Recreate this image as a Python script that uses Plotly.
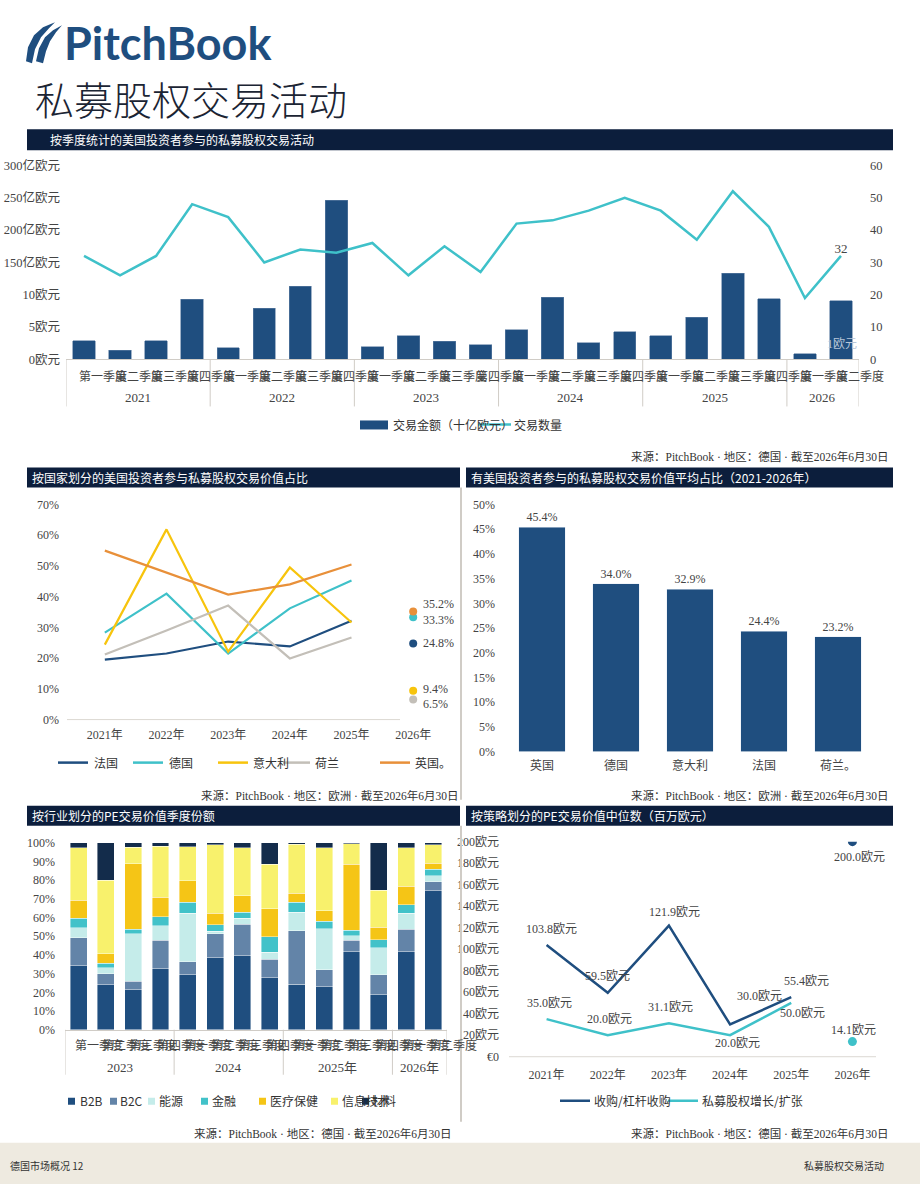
import plotly.graph_objects as go

W, H = 920, 1191
Y_OFF, Y_SCALE = 8.7, 0.987


def px(x):
    return x / W


def py(y):
    return 1 - ((y - Y_OFF) / Y_SCALE) / H


# ---------------- DATA ----------------
top_years = ["2021", "2022", "2023", "2024", "2025", "2026"]
top_q_per_year = [4, 4, 4, 4, 4, 2]
quarter_names = ["第一季度", "第二季度", "第三季度", "第四季度"]
deal_value = [2.9, 1.4, 2.9, 9.3, 1.8, 7.9, 11.3, 24.6, 2.0, 3.7, 2.8, 2.3,
              4.6, 9.6, 2.6, 4.3, 3.7, 6.5, 13.3, 9.4, 0.9, 9.1]
deal_count = [32, 26, 32, 48, 44, 30, 34, 33, 36, 26, 35, 27,
              42, 43, 46, 50, 46, 37, 52, 41, 19, 32]
top_left_ticks = [0, 5, 10, 15, 20, 25, 30]
top_left_text = ["0欧元", "5欧元", "10欧元", "150亿欧元", "200亿欧元", "250亿欧元", "300亿欧元"]
top_right_ticks = [0, 10, 20, 30, 40, 50, 60]

country_years = ["2021年", "2022年", "2023年", "2024年", "2025年", "2026年"]
france = [19.5, 21.5, 25.4, 23.8, 32.2, 24.8]
germany = [28.3, 41.0, 21.5, 36.2, 45.3, 33.3]
italy = [24.4, 61.9, 22.1, 49.5, 31.6, 9.4]
netherlands = [21.2, 29.0, 37.1, 19.9, 26.7, 6.5]
uk = [55.0, 47.9, 40.7, 44.0, 50.5, 35.2]
country_names = ["法国", "德国", "意大利", "荷兰", "英国。"]

avg_countries = ["英国", "德国", "意大利", "法国", "荷兰。"]
avg_share = [45.4, 34.0, 32.9, 24.4, 23.2]

sector_years = ["2023", "2024", "2025年", "2026年"]
sector_q_per_year = [4, 4, 4, 2]
sector_names = ["B2B", "B2C", "能源", "金融", "医疗保健", "信息技术", "材料"]
b2b = [34.3, 24.0, 21.5, 32.7, 29.5, 38.5, 39.6, 27.9, 24.2, 23.1, 41.7, 18.8, 41.7, 74.2]
b2c = [14.9, 5.8, 4.4, 15.1, 6.9, 12.8, 16.9, 9.9, 28.7, 9.0, 6.1, 10.5, 12.1, 4.8]
energy = [5.2, 3.4, 25.3, 7.8, 25.9, 1.3, 3.0, 3.6, 10.0, 21.9, 2.5, 14.4, 8.4, 3.4]
finance = [5.3, 2.3, 2.4, 4.8, 5.9, 3.5, 3.2, 8.2, 5.3, 4.1, 3.0, 4.3, 4.6, 3.4]
health = [9.4, 5.2, 35.2, 10.5, 11.4, 6.1, 8.9, 15.1, 4.8, 5.5, 35.2, 6.9, 9.9, 3.2]
it_tech = [28.1, 39.1, 8.7, 27.1, 18.1, 36.6, 25.7, 23.8, 26.1, 33.7, 11.0, 19.7, 20.6, 9.8]
materials = [2.8, 20.2, 2.5, 2.0, 2.3, 1.2, 2.7, 11.5, 0.9, 2.7, 0.5, 25.4, 2.7, 1.2]

strategy_years = ["2021年", "2022年", "2023年", "2024年", "2025年", "2026年"]
buyout = [103.8, 59.5, 121.9, 30.0, 55.4, 200.0]
growth = [35.0, 20.0, 31.1, 20.0, 50.0, 14.1]
strategy_names = ["收购/杠杆收购", "私募股权增长/扩张"]
strat_ticks = [0, 20, 40, 60, 80, 100, 120, 140, 160, 180, 200]
strat_ticktext = ["€0"] + [f"{v}欧元" for v in strat_ticks[1:]]

# ---------------- STYLE ----------------
NAVY = "#1f4e7f"
TEAL = "#3fc1c9"
YELLOW = "#f7c40d"
GREY = "#c3bfb8"
ORANGE = "#e8903a"
HEADER = "#0c1e3c"
SECTOR_COLORS = ["#1f4e7f", "#6384a8", "#c5ecea", "#42c2c9", "#f5c516", "#f8f16c", "#132c4b"]
FONT = "Liberation Serif, Noto Sans CJK SC, serif"
SANS = "Noto Sans CJK SC, sans-serif"
TICK = dict(family=FONT, size=12, color="#444444")
TICK_TOP = dict(family=FONT, size=12.5, color="#444444")

fig = go.Figure()
annotations = []
shapes = []

# ---------------- TOP CHART ----------------
n_top = len(deal_value)
xs_top = list(range(n_top))
fig.add_trace(go.Bar(x=xs_top, y=deal_value, marker=dict(color=NAVY, line=dict(width=0.6, color="#5f7fa3")),
                     width=0.62, xaxis="x", yaxis="y", showlegend=False))
fig.add_trace(go.Scatter(x=xs_top, y=deal_count, mode="lines+text", line=dict(color=TEAL, width=2.5),
                         text=[""] * (n_top - 1) + [str(deal_count[-1])], textposition="top center",
                         textfont=dict(family=FONT, size=13, color="#444"),
                         xaxis="x", yaxis="y2", showlegend=False))

idx = 0
shapes.append(dict(type="line", xref="x", yref="paper", x0=-0.5, x1=-0.5, y0=py(360), y1=py(407),
                   line=dict(color="#d0ccc6", width=1)))
for yr, nq in zip(top_years, top_q_per_year):
    for q in range(nq):
        annotations.append(dict(x=idx + q, y=py(376), xref="x", yref="paper", text=quarter_names[q],
                                xanchor="left", xshift=-7, showarrow=False,
                                font=dict(family=SANS, size=12, color="#444")))
    annotations.append(dict(x=idx + (nq - 1) / 2, y=py(398), xref="x", yref="paper", text=yr,
                            showarrow=False, font=dict(family=FONT, size=13, color="#444")))
    idx += nq
    shapes.append(dict(type="line", xref="x", yref="paper", x0=idx - 0.5, x1=idx - 0.5, y0=py(360), y1=py(407),
                       line=dict(color="#d0ccc6", width=1)))
annotations.append(dict(x=px(859), y=py(345), xref="paper", yref="paper", text="1欧元", xanchor="right",
                        showarrow=False, font=dict(family=FONT, size=12, color="#b8c6d8")))

# top legend
shapes.append(dict(type="rect", xref="paper", yref="paper", x0=px(360), x1=px(388), y0=py(430), y1=py(421),
                   fillcolor=NAVY, line=dict(width=0)))
annotations.append(dict(x=px(391), y=py(425), xref="paper", yref="paper", text="交易金额（十亿欧元）", xanchor="left",
                        showarrow=False, font=dict(family=SANS, size=12, color="#333")))
shapes.append(dict(type="line", xref="paper", yref="paper", x0=px(478), x1=px(511), y0=py(425), y1=py(425),
                   line=dict(color=TEAL, width=2.5)))
annotations.append(dict(x=px(512), y=py(425), xref="paper", yref="paper", text="交易数量", xanchor="left",
                        showarrow=False, font=dict(family=SANS, size=12, color="#333")))

# ---------------- MIDDLE LEFT ----------------
country_series = [france, germany, italy, netherlands, uk]
country_colors = [NAVY, TEAL, YELLOW, GREY, ORANGE]
for name, vals, col in zip(country_names, country_series, country_colors):
    fig.add_trace(go.Scatter(x=country_years[:5], y=vals[:5], mode="lines", line=dict(color=col, width=2.2),
                             xaxis="x3", yaxis="y3", showlegend=False, name=name))
for name, vals, col in zip(country_names, country_series, country_colors):
    fig.add_trace(go.Scatter(x=country_years[5:], y=vals[5:], mode="markers", marker=dict(color=col, size=8),
                             xaxis="x3", yaxis="y3", showlegend=False, name=name))
label_shift = {0: 0, 1: -3, 2: 2, 3: -4, 4: 7}
for k, (vals, col) in enumerate(zip(country_series, country_colors)):
    annotations.append(dict(x=country_years[5], y=vals[5], xref="x3", yref="y3", text=f"{vals[5]}%",
                            xanchor="left", xshift=8, yshift=label_shift[k], showarrow=False,
                            font=dict(family=FONT, size=12, color="#444")))
shapes.append(dict(type="line", xref="paper", yref="paper", x0=px(67), x1=px(400), y0=py(720), y1=py(720),
                   line=dict(color="#dcd8d2", width=1)))
leg_ml = [(58, 88, 92), (133, 163, 167), (218, 248, 251), (283, 310, 313), (380, 410, 413)]
for (a, b, t), name, col in zip(leg_ml, country_names, country_colors):
    shapes.append(dict(type="line", xref="paper", yref="paper", x0=px(a), x1=px(b), y0=py(763), y1=py(763),
                       line=dict(color=col, width=2.5)))
    annotations.append(dict(x=px(t), y=py(763), xref="paper", yref="paper", text=name, xanchor="left",
                            showarrow=False, font=dict(family=SANS, size=12, color="#333")))

# ---------------- MIDDLE RIGHT ----------------
fig.add_trace(go.Bar(x=avg_countries, y=avg_share, marker=dict(color=NAVY), width=0.63,
                     text=[f"{v}%" for v in avg_share], textposition="outside",
                     textfont=dict(family=FONT, size=12, color="#444"), cliponaxis=False,
                     xaxis="x4", yaxis="y4", showlegend=False))

# ---------------- BOTTOM LEFT ----------------
sector_series = [b2b, b2c, energy, finance, health, it_tech, materials]
n_sec = len(b2b)
xs_sec = list(range(n_sec))
for name, vals, col in zip(sector_names, sector_series, SECTOR_COLORS):
    fig.add_trace(go.Bar(x=xs_sec, y=vals, name=name,
                         marker=dict(color=col, line=dict(width=0.6, color="rgba(255,255,255,0.7)")),
                         width=0.62, xaxis="x5", yaxis="y5", showlegend=False))
idx = 0
shapes.append(dict(type="line", xref="x5", yref="paper", x0=-0.5, x1=-0.5, y0=py(1030), y1=py(1075),
                   line=dict(color="#d0ccc6", width=1)))
for yr, nq in zip(sector_years, sector_q_per_year):
    for q in range(nq):
        annotations.append(dict(x=idx + q, y=py(1045), xref="x5", yref="paper", text=quarter_names[q],
                                xanchor="left", xshift=-6, showarrow=False,
                                font=dict(family=SANS, size=12, color="#444")))
    annotations.append(dict(x=idx + (nq - 1) / 2, y=py(1068), xref="x5", yref="paper", text=yr,
                            showarrow=False, font=dict(family=FONT, size=13, color="#444")))
    idx += nq
    shapes.append(dict(type="line", xref="x5", yref="paper", x0=idx - 0.5, x1=idx - 0.5, y0=py(1030), y1=py(1075),
                       line=dict(color="#d0ccc6", width=1)))
leg_bl = [(68, 78), (110, 118), (148, 157), (201, 210), (259, 268), (331, 340), (362, 370)]
for (a, t), name, col in zip(leg_bl, sector_names, SECTOR_COLORS):
    shapes.append(dict(type="rect", xref="paper", yref="paper", x0=px(a), x1=px(a + 7), y0=py(1105), y1=py(1098),
                       fillcolor=col, line=dict(width=0)))
    annotations.append(dict(x=px(t), y=py(1101), xref="paper", yref="paper", text=name, xanchor="left",
                            showarrow=False, font=dict(family=SANS, size=12, color="#333")))

# ---------------- BOTTOM RIGHT ----------------
fig.add_trace(go.Scatter(x=strategy_years[:5], y=buyout[:5], mode="lines", line=dict(color=NAVY, width=2.5),
                         xaxis="x6", yaxis="y6", showlegend=False, name=strategy_names[0]))
fig.add_trace(go.Scatter(x=strategy_years[:5], y=growth[:5], mode="lines", line=dict(color=TEAL, width=2.5),
                         xaxis="x6", yaxis="y6", showlegend=False, name=strategy_names[1]))
fig.add_trace(go.Scatter(x=strategy_years[5:], y=buyout[5:], mode="markers", marker=dict(color=NAVY, size=9),
                         xaxis="x6", yaxis="y6", showlegend=False))
fig.add_trace(go.Scatter(x=strategy_years[5:], y=growth[5:], mode="markers", marker=dict(color=TEAL, size=9),
                         xaxis="x6", yaxis="y6", showlegend=False))
buy_shift = [(5, 16), (0, 17), (6, 14), (29, 28), (15, 16), (7, -15)]
gro_shift = [(3, 16), (2, 16), (2, 16), (7, -8), (11, -10), (1, 12)]
for yv, v, (dx, dy) in zip(strategy_years, buyout, buy_shift):
    annotations.append(dict(x=yv, y=v, xref="x6", yref="y6", text=f"{v:.1f}欧元", xshift=dx, yshift=dy,
                            showarrow=False, font=dict(family=FONT, size=12, color="#444")))
for yv, v, (dx, dy) in zip(strategy_years, growth, gro_shift):
    annotations.append(dict(x=yv, y=v, xref="x6", yref="y6", text=f"{v:.1f}欧元", xshift=dx, yshift=dy,
                            showarrow=False, font=dict(family=FONT, size=12, color="#444")))
shapes.append(dict(type="line", xref="paper", yref="paper", x0=px(509), x1=px(876), y0=py(1057), y1=py(1057),
                   line=dict(color="#dcd8d2", width=1)))
for (a, b, t), name, col in zip([(560, 590, 592), (668, 698, 700)], strategy_names, [NAVY, TEAL]):
    shapes.append(dict(type="line", xref="paper", yref="paper", x0=px(a), x1=px(b), y0=py(1101), y1=py(1101),
                       line=dict(color=col, width=2.5)))
    annotations.append(dict(x=px(t), y=py(1101), xref="paper", yref="paper", text=name, xanchor="left",
                            showarrow=False, font=dict(family=SANS, size=12, color="#333")))


# ---------------- PAGE DECOR ----------------
def path_from(points):
    return "M " + " L ".join(f"{px(x):.5f},{py(y):.5f}" for x, y in points) + " Z"


sail1 = [(26, 62), (28, 48), (34, 36), (43, 28), (55, 23), (49, 29), (41, 38), (35, 50), (32, 64)]
sail2 = [(36, 62), (39, 49), (45, 38), (53, 31), (62, 26), (56, 33), (50, 42), (46, 52), (43, 64)]
for sp in (sail1, sail2):
    shapes.append(dict(type="path", xref="paper", yref="paper", path=path_from(sp), fillcolor=NAVY,
                       line=dict(width=0)))
annotations.append(dict(x=px(62), y=py(44), xref="paper", yref="paper", text="<b>PitchBook</b>", xanchor="left",
                        showarrow=False, font=dict(family="Lato, Open Sans, sans-serif", size=45, color=NAVY)))
annotations.append(dict(x=px(33), y=py(99), xref="paper", yref="paper", text="私募股权交易活动", xanchor="left",
                        showarrow=False, font=dict(family=SANS, size=39, color="#1b2433", weight=300)))

headers = [(27, 893, 130, 151, 48, "按季度统计的美国投资者参与的私募股权交易活动"),
           (27, 460, 468, 488, 30, "按国家划分的美国投资者参与私募股权交易价值占比"),
           (466, 893, 468, 488, 469, "有美国投资者参与的私募股权交易价值平均占比（2021-2026年）"),
           (27, 460, 806, 826, 30, "按行业划分的PE交易价值季度份额"),
           (466, 893, 806, 826, 469, "按策略划分的PE交易价值中位数（百万欧元）")]
for x0, x1, y0, y1, tx, txt in headers:
    shapes.append(dict(type="rect", xref="paper", yref="paper", x0=px(x0), x1=px(x1), y0=py(y1), y1=py(y0),
                       fillcolor=HEADER, line=dict(width=0), layer="below"))
    annotations.append(dict(x=px(tx), y=py((y0 + y1) / 2), xref="paper", yref="paper", text=txt, xanchor="left",
                            showarrow=False, font=dict(family=SANS, size=12, color="white")))

sources = [(890, 457, "来源：PitchBook · 地区：德国 · 截至2026年6月30日"),
           (460, 796, "来源：PitchBook · 地区：欧洲 · 截至2026年6月30日"),
           (890, 796, "来源：PitchBook · 地区：欧洲 · 截至2026年6月30日"),
           (453, 1134, "来源：PitchBook · 地区：德国 · 截至2026年6月30日"),
           (890, 1134, "来源：PitchBook · 地区：德国 · 截至2026年6月30日")]
for x, y, txt in sources:
    annotations.append(dict(x=px(x), y=py(y), xref="paper", yref="paper", text=txt, xanchor="right",
                            showarrow=False, font=dict(family=FONT, size=11.5, color="#333")))

shapes.append(dict(type="line", xref="paper", yref="paper", x0=px(461), x1=px(461), y0=py(800), y1=py(488),
                   line=dict(color="#d0ccc6", width=2)))
shapes.append(dict(type="line", xref="paper", yref="paper", x0=px(461), x1=px(461), y0=py(1122), y1=py(826),
                   line=dict(color="#d0ccc6", width=2)))

shapes.append(dict(type="rect", xref="paper", yref="paper", x0=0, x1=1, y0=0, y1=py(1143),
                   fillcolor="#eeeae0", line=dict(width=0), layer="below"))
annotations.append(dict(x=px(8), y=py(1166), xref="paper", yref="paper", text="德国市场概况 12", xanchor="left",
                        showarrow=False, font=dict(family=SANS, size=10, color="#333")))
annotations.append(dict(x=px(886), y=py(1166), xref="paper", yref="paper", text="私募股权交易活动", xanchor="right",
                        showarrow=False, font=dict(family=SANS, size=10, color="#333")))

for a in annotations:
    a.setdefault("xanchor", "center")
    a.setdefault("yanchor", "middle")

# ---------------- AXES ----------------
common_y = dict(showgrid=False, zeroline=False, tickfont=TICK, ticks="", showline=False)
common_x = dict(showgrid=False, zeroline=False, tickfont=TICK, ticks="", fixedrange=True)

fig.update_layout(
    width=W, height=H, margin=dict(l=0, r=0, t=0, b=0, pad=0),
    paper_bgcolor="white", plot_bgcolor="rgba(0,0,0,0)",
    barmode="stack",
    annotations=annotations, shapes=shapes,
    xaxis=dict(common_x, domain=[px(66), px(859)], range=[-0.5, n_top - 0.5], showticklabels=False,
               showline=True, linecolor="#d0ccc6", anchor="y"),
    yaxis=dict(common_y, domain=[py(360), py(166)], range=[0, 30], tickvals=top_left_ticks,
               ticktext=top_left_text, anchor="x", ticklabelstandoff=5, tickfont=TICK_TOP),
    yaxis2=dict(common_y, domain=[py(360), py(166)], range=[0, 60], tickvals=top_right_ticks,
                overlaying="y", side="right", anchor="x", ticklabelstandoff=10, tickfont=TICK_TOP),
    xaxis3=dict(common_x, domain=[px(74), px(444)], anchor="y3", type="category",
                range=[-0.5, 5.5], ticklabelstandoff=6),
    yaxis3=dict(common_y, domain=[py(720), py(505)], range=[0, 70], tickvals=list(range(0, 71, 10)),
                ticktext=[f"{v}%" for v in range(0, 71, 10)], anchor="x3", ticklabelstandoff=14),
    xaxis4=dict(common_x, domain=[px(505), px(875)], anchor="y4", type="category", ticklabelstandoff=5),
    yaxis4=dict(common_y, domain=[py(752), py(505)], range=[0, 50], tickvals=list(range(0, 51, 5)),
                ticktext=[f"{v}%" for v in range(0, 51, 5)], anchor="x4", ticklabelstandoff=9),
    xaxis5=dict(common_x, domain=[px(65), px(447)], range=[-0.5, n_sec - 0.5], showticklabels=False,
                anchor="y5", showline=True, linecolor="#d0ccc6"),
    yaxis5=dict(common_y, domain=[py(1030), py(843)], range=[0, 100], tickvals=list(range(0, 101, 10)),
                ticktext=[f"{v}%" for v in range(0, 101, 10)], anchor="x5", ticklabelstandoff=9),
    xaxis6=dict(common_x, domain=[px(516), px(883)], anchor="y6", type="category",
                range=[-0.5, 5.5], ticklabelstandoff=9),
    yaxis6=dict(common_y, domain=[py(1057), py(842)], range=[0, 200], tickvals=strat_ticks,
                ticktext=strat_ticktext, anchor="x6", ticklabelstandoff=16),
)

fig.write_html("out.html")
